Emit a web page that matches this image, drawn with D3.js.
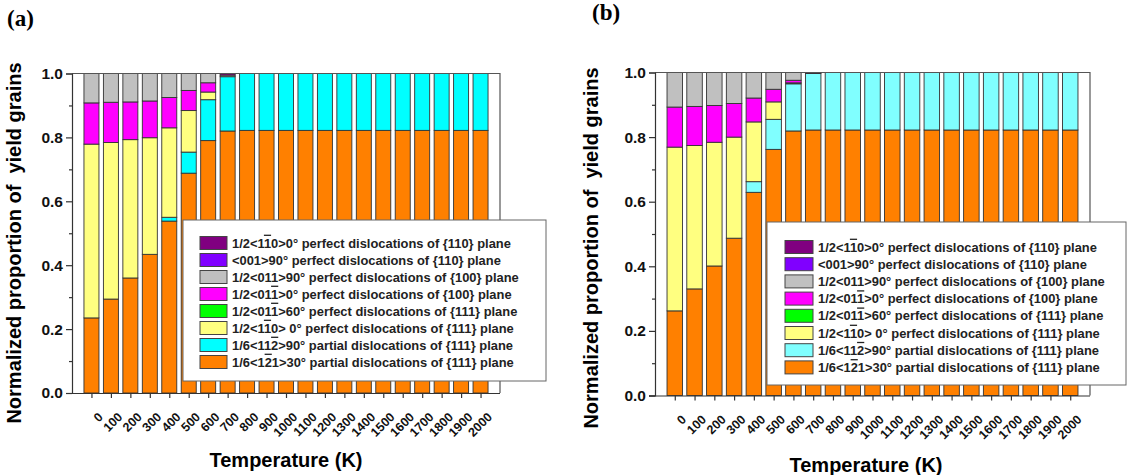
<!DOCTYPE html>
<html>
<head>
<meta charset="utf-8">
<script src="https://cdn.jsdelivr.net/npm/d3@7"></script>
<style>
  body { margin: 0; background: #fff; }
  svg text { font-family: "Liberation Sans", Arial, sans-serif; }
</style>
</head>
<body>
<div id="chart"></div>
<script>
// temperatures (K)
const temps = ["0","100","200","300","400","500","600","700","800","900","1000",
               "1100","1200","1300","1400","1500","1600","1700","1800","1900","2000"];

// stacking order, bottom -> top
const keys = ["p30", "p90", "f111a", "f111b", "f100a", "f100b", "f001", "f110"];

// legend rows, top -> bottom (parts with bar=true get an overline)
const legendRows = [
  {key: "f110",  parts: [["1/2<1"], ["1", true], ["0>0° perfect dislocations of {110} plane"]]},
  {key: "f001",  parts: [["<001>90° perfect dislocations of {110} plane"]]},
  {key: "f100b", parts: [["1/2<011>90° perfect dislocations of {100} plane"]]},
  {key: "f100a", parts: [["1/2<01"], ["1", true], [">0° perfect dislocations of {100} plane"]]},
  {key: "f111b", parts: [["1/2<01"], ["1", true], [">60° perfect dislocations of {111} plane"]]},
  {key: "f111a", parts: [["1/2<1"], ["1", true], ["0> 0° perfect dislocations of {111} plane"]]},
  {key: "p90",   parts: [["1/6<11"], ["2", true], [">90° partial dislocations of {111} plane"]]},
  {key: "p30",   parts: [["1/6<1"], ["2", true], ["1>30° partial dislocations of {111} plane"]]}
];

// panel (a) values
const a_p30   = [0.235,0.294,0.360,0.434,0.538,0.688,0.790,0.820,0.822,0.822,0.822,0.822,0.822,0.822,0.822,0.822,0.822,0.822,0.822,0.822,0.822];
const a_p90   = [0,0,0,0,0.012,0.066,0.128,0.170,0.178,0.178,0.178,0.178,0.178,0.178,0.178,0.178,0.178,0.178,0.178,0.178,0.178];
const a_f111a = [0.544,0.490,0.433,0.365,0.280,0.130,0.024,0,0,0,0,0,0,0,0,0,0,0,0,0,0];
const a_f111b = [0,0,0,0,0,0,0,0,0,0,0,0,0,0,0,0,0,0,0,0,0];
const a_f100a = [0.129,0.126,0.118,0.115,0.095,0.063,0.029,0,0,0,0,0,0,0,0,0,0,0,0,0,0];
const a_f100b = [0.092,0.090,0.089,0.086,0.075,0.053,0.029,0.005,0,0,0,0,0,0,0,0,0,0,0,0,0];
const a_f001  = [0,0,0,0,0,0,0,0,0,0,0,0,0,0,0,0,0,0,0,0,0];
const a_f110  = [0,0,0,0,0,0,0,0.005,0,0,0,0,0,0,0,0,0,0,0,0,0];

// panel (b) values
const b_p30   = [0.262,0.330,0.401,0.487,0.629,0.762,0.819,0.822,0.822,0.822,0.822,0.822,0.822,0.822,0.822,0.822,0.822,0.822,0.822,0.822,0.822];
const b_p90   = [0,0,0,0,0.033,0.093,0.146,0.175,0.178,0.178,0.178,0.178,0.178,0.178,0.178,0.178,0.178,0.178,0.178,0.178,0.178];
const b_f111a = [0.507,0.444,0.383,0.313,0.185,0.054,0.003,0,0,0,0,0,0,0,0,0,0,0,0,0,0];
const b_f111b = [0,0,0,0,0,0,0,0,0,0,0,0,0,0,0,0,0,0,0,0,0];
const b_f100a = [0.124,0.121,0.114,0.104,0.074,0.039,0.008,0,0,0,0,0,0,0,0,0,0,0,0,0,0];
const b_f100b = [0.107,0.105,0.102,0.096,0.079,0.052,0.024,0,0,0,0,0,0,0,0,0,0,0,0,0,0];
const b_f001  = [0,0,0,0,0,0,0,0,0,0,0,0,0,0,0,0,0,0,0,0,0];
const b_f110  = [0,0,0,0,0,0,0,0.003,0,0,0,0,0,0,0,0,0,0,0,0,0];

const yTicks = [0, 0.2, 0.4, 0.6, 0.8, 1.0];
const yMinor = [0.1, 0.3, 0.5, 0.7, 0.9];

const svg = d3.select("#chart").append("svg")
    .attr("width", 1131)
    .attr("height", 475);

function buildRows(series) {
    return temps.map((t, i) => {
        let row = {temp: t};
        keys.forEach(k => row[k] = series[k][i]);
        return row;
    });
}

function drawPanel(p) {
    let rows = buildRows(p.series);
    let stacked = d3.stack().keys(keys)(rows);

    // one empty slot either side of the bars
    let step = (p.right - p.left) / (temps.length + 1);
    let x = d3.scalePoint().domain(temps).range([p.left + step, p.right - step]);
    let y = d3.scaleLinear().domain([0, 1]).range([p.bottom, p.top]);

    let g = svg.append("g");

    // bars
    g.selectAll("g.layer")
        .data(stacked)
        .enter()
        .append("g")
        .attr("class", "layer")
        .attr("fill", d => p.colors[d.key])
        .selectAll("rect")
        .data(d => d.filter(s => s[1] - s[0] > 0))
        .enter()
        .append("rect")
        .attr("x", d => x(d.data.temp) - p.barW / 2)
        .attr("width", p.barW)
        .attr("y", d => y(d[1]))
        .attr("height", d => y(d[0]) - y(d[1]))
        .attr("stroke", "#333")
        .attr("stroke-width", 0.9);

    // frame top + right
    g.append("path")
        .attr("d", `M${p.left},${p.top}H${p.right}V${p.bottom}`)
        .attr("fill", "none")
        .attr("stroke", "#555")
        .attr("stroke-width", 1.2);

    // y axis
    let yAxis = g.append("g")
        .attr("transform", `translate(${p.left},0)`)
        .call(d3.axisLeft(y).tickValues(yTicks).tickFormat(d3.format(".1f")).tickSize(6).tickPadding(3));
    yAxis.selectAll("text")
        .style("font-size", "15.5px")
        .style("font-weight", "bold")
        .attr("fill", "#111");
    // minor y ticks
    g.append("g")
        .attr("transform", `translate(${p.left},0)`)
        .call(d3.axisLeft(y).tickValues(yMinor).tickFormat("").tickSize(3))
        .select(".domain").remove();

    // x axis
    let xAxis = g.append("g")
        .attr("transform", `translate(0,${p.bottom})`)
        .call(d3.axisBottom(x).tickSize(5).tickSizeOuter(0));
    xAxis.select(".domain").attr("d", `M${p.left - 6},0.5H${p.right}`);
    xAxis.selectAll("text")
        .style("font-size", "12.5px")
        .style("font-weight", "bold")
        .attr("fill", "#111")
        .attr("text-anchor", "end")
        .attr("dy", "0.35em")
        .attr("transform", "translate(3,16) rotate(-45)");
    g.selectAll(".domain, .tick line").attr("stroke", "#333").attr("stroke-width", 1.2);

    // axis titles
    g.append("text")
        .attr("transform", `translate(${p.ytX},${p.ytY}) rotate(-90)`)
        .attr("text-anchor", "middle")
        .style("font-size", "20px")
        .style("font-weight", "bold")
        .text("Normalized proportion of \u00a0yield grains");
    g.append("text")
        .attr("x", p.xtX)
        .attr("y", p.xtY)
        .attr("text-anchor", "middle")
        .style("font-size", "20px")
        .style("font-weight", "bold")
        .text("Temperature (K)");

    // panel letter
    g.append("text")
        .attr("x", p.lblX)
        .attr("y", p.lblY)
        .style("font-family", "'Liberation Serif', 'Times New Roman', serif")
        .style("font-size", "23px")
        .style("font-weight", "bold")
        .text(p.label);

    // legend
    let lg = g.append("g");
    lg.append("rect")
        .attr("x", p.lg.x).attr("y", p.lg.y)
        .attr("width", p.lg.w).attr("height", p.lg.h)
        .attr("fill", "#fff")
        .attr("stroke", "#666")
        .attr("stroke-width", 1);
    let item = lg.selectAll("g.item")
        .data(legendRows)
        .enter()
        .append("g")
        .attr("class", "item")
        .attr("transform", (d, i) => `translate(${p.lg.sx},${p.lg.y0 + i * p.lg.dy})`);
    item.append("rect")
        .attr("x", 0).attr("y", -6.5)
        .attr("width", p.lg.sw).attr("height", 13)
        .attr("fill", d => p.colors[d.key])
        .attr("stroke", "#444")
        .attr("stroke-width", 1);
    let txt = item.append("text")
        .attr("x", p.lg.sw + 5)
        .attr("y", 0)
        .attr("dy", "0.36em")
        .style("font-size", "12.9px")
        .style("font-weight", "bold")
        .attr("fill", "#222");
    txt.selectAll("tspan")
        .data(d => d.parts)
        .enter()
        .append("tspan")
        .style("text-decoration", d => d[1] ? "overline" : null)
        .text(d => d[0]);
}

const colorsA = {p30: "#ff8000", p90: "#00ffff", f111a: "#ffff80", f111b: "#00ff00",
                 f100a: "#ff00ff", f100b: "#c0c0c0", f001: "#8000ff", f110: "#800080"};
const colorsB = {p30: "#ff8000", p90: "#80ffff", f111a: "#ffff80", f111b: "#00ff00",
                 f100a: "#ff00ff", f100b: "#c0c0c0", f001: "#8000ff", f110: "#800080"};

drawPanel({
    label: "(a)", lblX: 7, lblY: 26,
    left: 72, right: 500, top: 73.5, bottom: 393, barW: 15,
    colors: colorsA,
    series: {p30: a_p30, p90: a_p90, f111a: a_f111a, f111b: a_f111b,
             f100a: a_f100a, f100b: a_f100b, f001: a_f001, f110: a_f110},
    ytX: 21, ytY: 243, xtX: 286, xtY: 467,
    lg: {x: 183, y: 220, w: 363, h: 161, sx: 200, sw: 27, y0: 243, dy: 17}
});

drawPanel({
    label: "(b)", lblX: 592, lblY: 20,
    left: 655, right: 1090, top: 72.5, bottom: 395.5, barW: 15.5,
    colors: colorsB,
    series: {p30: b_p30, p90: b_p90, f111a: b_f111a, f111b: b_f111b,
             f100a: b_f100a, f100b: b_f100b, f001: b_f001, f110: b_f110},
    ytX: 598, ytY: 248, xtX: 866, xtY: 472,
    lg: {x: 767, y: 222, w: 359, h: 163, sx: 785, sw: 28, y0: 247, dy: 17.2}
});
</script>
</body>
</html>
